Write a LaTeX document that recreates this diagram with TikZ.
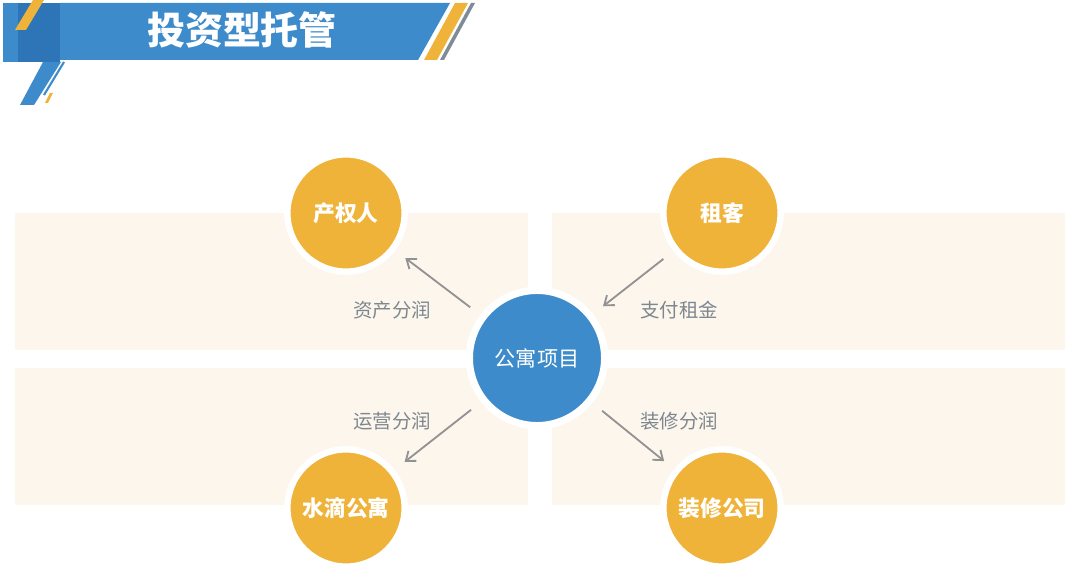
\documentclass[tikz,border=0pt]{standalone}
\usepackage{fontspec}
\newfontfamily\cjk{Noto Sans CJK SC}
\usepackage{tikz}
\usetikzlibrary{arrows.meta}
\definecolor{barblue}{HTML}{3D8BCA}
\definecolor{deepblue}{HTML}{2E75B8}
\definecolor{gold}{HTML}{F0B33A}
\definecolor{cream}{HTML}{FDF6EC}
\definecolor{slate}{HTML}{7F8C97}
\definecolor{arrgray}{HTML}{929292}
\definecolor{txtgray}{HTML}{7D8790}

\begin{document}
\begin{tikzpicture}[
			x=0.025cm,y=-0.025cm,
			panel/.style={fill=cream,draw=none},
			party/.style={circle,fill=gold,draw=white,line width=0.16cm,minimum size=2.93cm,inner sep=0pt,text=white,font=\cjk\bfseries\fontsize{15.5pt}{18pt}\selectfont},
			hub/.style={circle,fill=barblue,draw=white,line width=0.18cm,minimum size=3.38cm,inner sep=0pt,text=white,font=\cjk\fontsize{15pt}{18pt}\selectfont},
			lbl/.style={text=txtgray,font=\cjk\fontsize{13.8pt}{16pt}\selectfont},
			arr/.style={-{Straight Barb[length=6pt,width=9pt]},line width=1.3pt,arrgray,shorten <=9pt,shorten >=9pt}
			]
			\useasboundingbox (0,0) rectangle (1080,571);
			\fill[white] (0,0) rectangle (1080,571);
			\fill[barblue] (3,3) rectangle (60,62);
			\fill[deepblue] (18,3) rectangle (60,62);
			\fill[barblue] (60,3) -- (450,3) -- (418,60) -- (60,60) -- cycle;
			\fill[gold] (455,3) -- (468,3) -- (437,60) -- (424,60) -- cycle;
			\fill[slate] (471,3) -- (475,3) -- (444,60) -- (440,60) -- cycle;
			\fill[gold] (33,0) -- (44,0) -- (26,30) -- (15,30) -- cycle;
			\fill[barblue] (43,62) -- (61,62) -- (34,105) -- (20,105) -- cycle;
			\draw[barblue,line width=1.5pt] (64,62) -- (44,95);
			\fill[gold] (50,93) -- (53,93) -- (48,103) -- (45,103) -- cycle;
			\node[text=white,font=\cjk\bfseries\fontsize{27pt}{32pt}\selectfont] (ttl) at (242,30) {投资型托管};
			\fill[panel] (15,213) rectangle (528,350);
			\fill[panel] (552,213) rectangle (1065,350);
			\fill[panel] (15,368) rectangle (528,505);
			\fill[panel] (552,368) rectangle (1065,505);
			\node[hub] (proj) at (537,358) {公寓项目};
			\node[party] (own) at (346,213) {产权人};
			\node[party] (ten) at (722,213) {租客};
			\node[party] (ops) at (346,508) {水滴公寓};
			\node[party] (dec) at (722,508) {装修公司};
			\draw[arr] (proj)--(own);
			\draw[arr] (ten)--(proj);
			\draw[arr] (proj)--(ops);
			\draw[arr] (proj)--(dec);
			\node[lbl] (l1) at (392,310) {资产分润};
			\node[lbl] (l2) at (679,310) {支付租金};
			\node[lbl] (l3) at (392,421) {运营分润};
			\node[lbl] (l4) at (679,421) {装修分润};
		\end{tikzpicture}
\end{document}
